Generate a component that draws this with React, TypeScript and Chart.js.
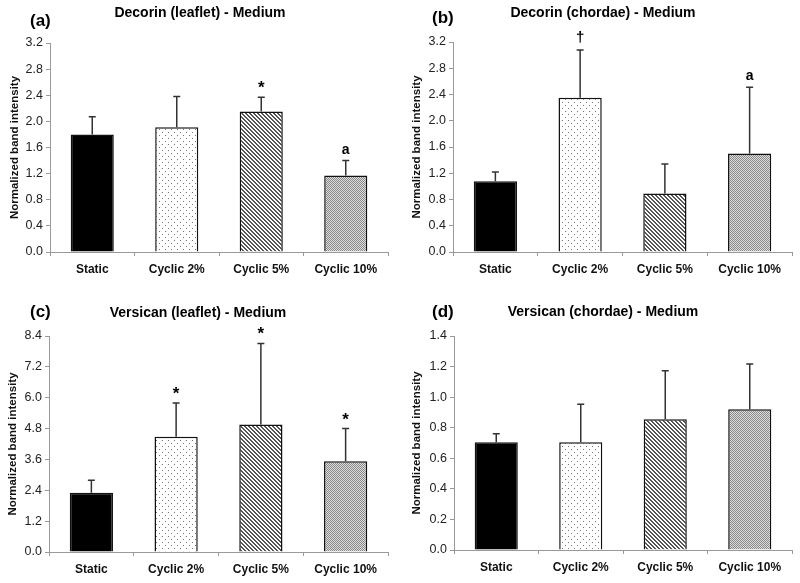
import React, { useEffect, useRef } from "react";
import { Chart, registerables } from "chart.js";

Chart.register(...registerables);

const categories = ["Static", "Cyclic 2%", "Cyclic 5%", "Cyclic 10%"];

const decorinLeafletMean = [1.8, 1.91, 2.15, 1.17];
const decorinLeafletErr = [0.27, 0.47, 0.22, 0.23];
const decorinLeafletMarks = ["", "", "*", "a"];

const decorinChordaeMean = [1.08, 2.35, 0.89, 1.5];
const decorinChordaeErr = [0.14, 0.73, 0.45, 1.01];
const decorinChordaeMarks = ["", "†", "", "a"];

const versicanLeafletMean = [2.3, 4.48, 4.96, 3.53];
const versicanLeafletErr = [0.49, 1.31, 3.15, 1.27];
const versicanLeafletMarks = ["", "*", "*", "*"];

const versicanChordaeMean = [0.705, 0.705, 0.856, 0.921];
const versicanChordaeErr = [0.055, 0.249, 0.317, 0.296];
const versicanChordaeMarks = ["", "", "", ""];

const yMaxes = [3.2, 3.2, 8.4, 1.4];
const ySteps = [0.4, 0.4, 1.2, 0.2];
const titles = [
  "Decorin (leaflet) - Medium",
  "Decorin (chordae) - Medium",
  "Versican (leaflet) - Medium",
  "Versican (chordae) - Medium",
];
const panelLabels = ["(a)", "(b)", "(c)", "(d)"];

const FONT = "'Liberation Sans', Arial, sans-serif";

function makePatterns(ctx: CanvasRenderingContext2D) {
  const d = document.createElement("canvas");
  d.width = 6;
  d.height = 6;
  const dc = d.getContext("2d")!;
  dc.fillStyle = "#fff";
  dc.fillRect(0, 0, 6, 6);
  dc.fillStyle = "#777";
  dc.fillRect(0, 0, 1, 1);
  dc.fillRect(3, 3, 1, 1);
  const h = document.createElement("canvas");
  h.width = 4;
  h.height = 4;
  const hc = h.getContext("2d")!;
  hc.fillStyle = "#fff";
  hc.fillRect(0, 0, 4, 4);
  hc.fillStyle = "#555";
  for (let y = 0; y < 4; y++) {
    for (let x = 0; x < 4; x++) {
      const k = (((x - y) % 4) + 4) % 4;
      if (k === 0 || k === 1) hc.fillRect(x, y, 1, 1);
    }
  }
  const s = document.createElement("canvas");
  s.width = 2;
  s.height = 2;
  const sc = s.getContext("2d")!;
  sc.fillStyle = "#dcdcdc";
  sc.fillRect(0, 0, 2, 2);
  sc.fillStyle = "#8a8a8a";
  sc.fillRect(0, 0, 1, 1);
  sc.fillRect(1, 1, 1, 1);
  return [
    "#000",
    ctx.createPattern(d, "repeat")!,
    ctx.createPattern(h, "repeat")!,
    ctx.createPattern(s, "repeat")!,
  ];
}

type PanelProps = {
  idx: number;
  mean: number[];
  err: number[];
  marks: string[];
  width: number;
  height: number;
  plotLeft: number;
  plotTop: number;
  plotBottom: number;
  plotRight: number;
  titleX: number;
  titleY: number;
  labelX: number;
  labelY: number;
  yTitlePad: number;
};

function Panel(p: PanelProps) {
  const ref = useRef<HTMLCanvasElement>(null);
  useEffect(() => {
    const canvas = ref.current!;
    const ctx = canvas.getContext("2d")!;
    const fills = makePatterns(ctx);
    const overlay = {
      id: "overlay",
      afterDatasetsDraw(chart: any) {
        const c = chart.ctx;
        const meta = chart.getDatasetMeta(0);
        const ys = chart.scales.y;
        c.save();
        meta.data.forEach((bar: any, i: number) => {
          const top = ys.getPixelForValue(p.mean[i] + p.err[i]);
          const x = bar.x;
          c.strokeStyle = "#333";
          c.lineWidth = 1.5;
          c.beginPath();
          c.moveTo(x, bar.y);
          c.lineTo(x, top);
          c.moveTo(x - 3.5, top);
          c.lineTo(x + 3.5, top);
          c.stroke();
          const m = p.marks[i];
          if (m) {
            c.fillStyle = "#000";
            c.textAlign = "center";
            c.textBaseline = "alphabetic";
            if (m === "*") {
              c.font = `bold 17px ${FONT}`;
              c.fillText(m, x, top - 4);
            } else if (m === "†") {
              c.font = `bold 15px ${FONT}`;
              c.fillText(m, x, top - 8);
            } else {
              c.font = `bold 14px ${FONT}`;
              c.fillText(m, x, top - 7);
            }
          }
        });
        c.fillStyle = "#000";
        c.textAlign = "center";
        c.textBaseline = "middle";
        c.font = `bold 14px ${FONT}`;
        c.fillText(titles[p.idx], p.titleX, p.titleY);
        c.textAlign = "left";
        c.font = `bold 17px ${FONT}`;
        c.fillText(panelLabels[p.idx], p.labelX, p.labelY);
        c.restore();
      },
    };
    const chart = new Chart(canvas, {
      type: "bar",
      data: {
        labels: categories,
        datasets: [
          {
            data: p.mean,
            backgroundColor: fills as any,
            borderColor: "#111",
            borderWidth: 1.5,
            categoryPercentage: 1,
            barPercentage: 0.51,
          },
        ],
      },
      options: {
        responsive: false,
        animation: false,
        events: [],
        layout: {
          padding: {
            left: 0,
            top: p.plotTop,
            right: p.width - p.plotRight,
            bottom: 0,
          },
        },
        plugins: {
          legend: { display: false },
          tooltip: { enabled: false },
          title: { display: false },
        },
        scales: {
          x: {
            grid: {
              offset: true,
              drawOnChartArea: false,
              drawTicks: true,
              tickLength: 4,
              color: "#999",
            },
            border: { display: true, color: "#999" },
            ticks: {
              color: "#111",
              font: { family: FONT, size: 12, weight: "bold" },
              padding: 6,
              maxRotation: 0,
              autoSkip: false,
            },
            afterFit: (s: any) => {
              s.height = p.height - p.plotBottom;
            },
          },
          y: {
            min: 0,
            max: yMaxes[p.idx],
            grid: {
              drawOnChartArea: false,
              drawTicks: true,
              tickLength: 4,
              color: "#999",
            },
            border: { display: true, color: "#999" },
            ticks: {
              stepSize: ySteps[p.idx],
              color: "#222",
              font: { family: FONT, size: 12.5 },
              padding: 3,
              callback: (v: any) => Number(v).toFixed(1),
            },
            title: {
              display: true,
              text: "Normalized band intensity",
              color: "#111",
              font: { family: FONT, size: 11.5, weight: "bold" },
              padding: { top: p.yTitlePad, bottom: 0 },
            },
            afterFit: (s: any) => {
              s.width = p.plotLeft;
            },
          },
        },
      },
      plugins: [overlay],
    });
    return () => chart.destroy();
  }, []);
  return (
    <canvas
      ref={ref}
      width={p.width}
      height={p.height}
      style={{ display: "block", width: p.width, height: p.height }}
    />
  );
}

export default function App() {
  return (
    <div
      style={{
        position: "absolute",
        left: 0,
        top: 0,
        width: 800,
        height: 583,
        background: "#fff",
        display: "grid",
        gridTemplateColumns: "400px 400px",
        gridTemplateRows: "290px 293px",
      }}
    >
      <Panel
        idx={0}
        mean={decorinLeafletMean}
        err={decorinLeafletErr}
        marks={decorinLeafletMarks}
        width={400}
        height={290}
        plotLeft={50}
        plotTop={43}
        plotBottom={252}
        plotRight={388}
        titleX={200}
        titleY={13}
        labelX={30}
        labelY={21}
        yTitlePad={8}
      />
      <Panel
        idx={1}
        mean={decorinChordaeMean}
        err={decorinChordaeErr}
        marks={decorinChordaeMarks}
        width={400}
        height={290}
        plotLeft={53}
        plotTop={42}
        plotBottom={252}
        plotRight={392}
        titleX={203}
        titleY={13}
        labelX={32}
        labelY={18}
        yTitlePad={10}
      />
      <Panel
        idx={2}
        mean={versicanLeafletMean}
        err={versicanLeafletErr}
        marks={versicanLeafletMarks}
        width={400}
        height={293}
        plotLeft={49}
        plotTop={46}
        plotBottom={262}
        plotRight={388}
        titleX={198}
        titleY={23}
        labelX={30}
        labelY={22}
        yTitlePad={6}
      />
      <Panel
        idx={3}
        mean={versicanChordaeMean}
        err={versicanChordaeErr}
        marks={versicanChordaeMarks}
        width={400}
        height={293}
        plotLeft={54}
        plotTop={46}
        plotBottom={260}
        plotRight={392}
        titleX={203}
        titleY={22}
        labelX={32}
        labelY={22}
        yTitlePad={10}
      />
    </div>
  );
}
